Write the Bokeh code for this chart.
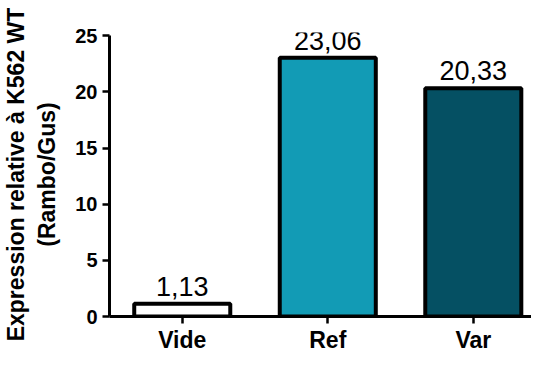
from bokeh.plotting import figure
from bokeh.models import ColumnDataSource, FixedTicker, Range1d, LabelSet
from bokeh.embed import file_html
from bokeh.resources import INLINE
from bokeh.core.properties import value
import numpy as np

categories = ["Vide", "Ref", "Var"]
values = [1.13, 23.06, 20.33]
colors = ["#FFFFFF", "#129BB5", "#055063"]
y_ticks = [0, 5, 10, 15, 20, 25]

x = (np.arange(len(categories)) + 0.5).tolist()
labels = [f"{v:.2f}".replace(".", ",") for v in values]
src = ColumnDataSource(dict(x=x, top=values, color=colors, label=labels))

FONT = "Liberation Sans"

p = figure(width=531, height=355, output_backend="svg", toolbar_location=None,
           x_range=Range1d(0, 2.9), y_range=Range1d(0, 25.3),
           min_border_left=103, min_border_right=0, min_border_top=32, min_border_bottom=22)
p.outline_line_color = None
p.xgrid.visible = False
p.ygrid.visible = False

p.vbar(x="x", top="top", bottom=0, width=0.66, fill_color="color",
       line_color="black", line_width=4, source=src)
p.add_layout(LabelSet(x="x", y="top", text="label", source=src, text_align="center",
                      text_baseline="alphabetic", y_offset=8, text_font=value(FONT),
                      text_font_size="27px", text_color="black", level="overlay"))

# y axis
ya = p.yaxis[0]
ya.ticker = FixedTicker(ticks=y_ticks)
ya.bounds = (0, 25)
ya.axis_label = "Expression relative à K562 WT\n(Rambo/Gus)"
ya.axis_label_text_font = FONT
ya.axis_label_text_font_style = "bold"
ya.axis_label_text_font_size = "23px"
ya.axis_label_text_color = "black"
ya.axis_label_standoff = 12
ya.major_label_text_font = FONT
ya.major_label_text_font_style = "bold"
ya.major_label_text_font_size = "20px"
ya.major_label_text_color = "black"
ya.major_label_standoff = 5
ya.axis_line_width = 3
ya.major_tick_line_width = 2.5
ya.major_tick_out = 7
ya.major_tick_in = 0
ya.minor_tick_line_color = None

# x axis
xa = p.xaxis[0]
xa.ticker = FixedTicker(ticks=x)
xa.major_label_overrides = {xi: c for xi, c in zip(x, categories)}
xa.major_label_text_font = FONT
xa.major_label_text_font_style = "bold"
xa.major_label_text_font_size = "23px"
xa.major_label_text_line_height = 0.7
xa.major_label_text_color = "black"
xa.major_label_standoff = 3
xa.axis_line_width = 3
xa.major_tick_line_width = 2.5
xa.major_tick_out = 7
xa.major_tick_in = 0
xa.minor_tick_line_color = None

open("out.html", "w").write(file_html(p, INLINE))
